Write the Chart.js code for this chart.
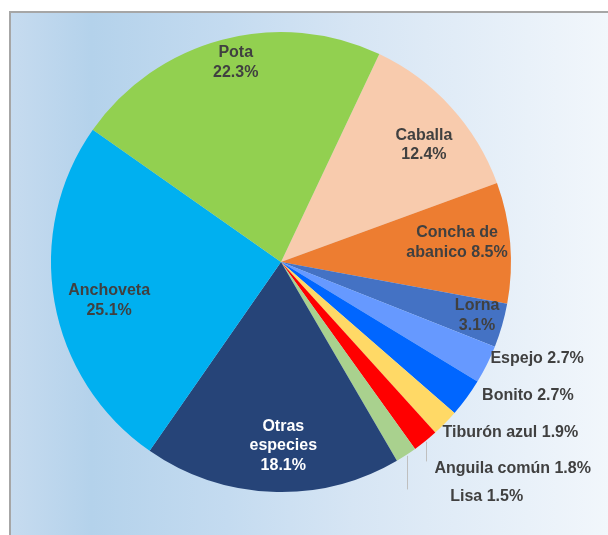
<!DOCTYPE html>
<html>
<head>
<meta charset="utf-8">
<script src="https://cdn.jsdelivr.net/npm/chart.js@4"></script>
<style>
  html, body { margin: 0; padding: 0; background: #ffffff; }
  #wrap { position: relative; width: 608px; height: 535px; overflow: hidden; }
  #frame {
    position: absolute; left: 9px; top: 11px; width: 620px; height: 560px;
    border: 2px solid #a6a6a6;
    background: linear-gradient(to right, #c6dbef 0%, #b4d2eb 13%, #c4dbf0 35%, #d6e5f4 55%, #f4f8fc 100%);
  }
  canvas { position: absolute; left: 0; top: 0; }
</style>
</head>
<body>
<div id="wrap">
  <div id="frame"></div>
  <canvas id="grafico" width="608" height="535"></canvas>
</div>
<script>
// especies (en sentido horario desde Caballa)
const especies = ['Caballa', 'Concha de abanico', 'Lorna', 'Espejo', 'Bonito', 'Tiburón azul',
                  'Anguila común', 'Lisa', 'Otras especies', 'Anchoveta', 'Pota'];
const porcentajes = [12.4, 8.5, 3.1, 2.7, 2.7, 1.9, 1.8, 1.5, 18.1, 25.1, 22.3];
const colores = ['#f8cbad', '#ed7d31', '#4472c4', '#6699ff', '#0066ff', '#ffd966',
                 '#ff0000', '#a9d18e', '#264478', '#00b0f0', '#92d050'];

// texto de cada etiqueta (lineas)
const etiquetas = [
    ['Caballa', '12.4%'],
    ['Concha de', 'abanico 8.5%'],
    ['Lorna', '3.1%'],
    ['Espejo 2.7%'],
    ['Bonito 2.7%'],
    ['Tiburón azul 1.9%'],
    ['Anguila común 1.8%'],
    ['Lisa 1.5%'],
    ['Otras', 'especies', '18.1%'],
    ['Anchoveta', '25.1%'],
    ['Pota', '22.3%']
];
// colocacion: [factor de radio, desvio de angulo en grados]
const colocacion = [
    [0.803, 3.1], [0.77, -1.4], [0.884, -0.7], [1.19, -5.8], [1.22, -7.8],
    [1.243, -7.8], [1.349, -9.4], [1.356, -8.3], [0.80, -3.0], [0.766, -2.7], [0.888, 2.0]
];
const conLinea = [false, false, false, false, false, false, true, true, false, false, false];

const pluginEtiquetas = {
    id: 'etiquetas',
    afterDatasetsDraw(chart) {
        const ctx = chart.ctx;
        const arcos = chart.getDatasetMeta(0).data;
        ctx.save();
        ctx.font = 'bold 16px "Liberation Sans", Arial, sans-serif';
        ctx.textAlign = 'center';
        ctx.textBaseline = 'middle';
        arcos.forEach((arco, i) => {
            const mitad = (arco.startAngle + arco.endAngle) / 2;
            const medio = mitad + colocacion[i][1] * Math.PI / 180;
            const r = arco.outerRadius * colocacion[i][0];
            const x = arco.x + Math.cos(medio) * r;
            const y = arco.y + Math.sin(medio) * r;
            const lineas = etiquetas[i];
            const alto = 19.5;
            const y0 = y - (lineas.length - 1) * alto / 2;
            if (conLinea[i]) {
                const lx = arco.x + Math.cos(mitad) * (arco.outerRadius + 1);
                const ly = arco.y + Math.sin(mitad) * (arco.outerRadius + 1);
                ctx.strokeStyle = '#bfbfbf';
                ctx.lineWidth = 1;
                ctx.beginPath();
                ctx.moveTo(Math.round(lx) + 0.5, ly);
                ctx.lineTo(Math.round(lx) + 0.5, y0 - 7);
                ctx.stroke();
            }
            ctx.fillStyle = (i === 8) ? '#ffffff' : '#404040';
            lineas.forEach((t, k) => ctx.fillText(t, x, y0 + k * alto));
        });
        ctx.restore();
    }
};

new Chart(document.getElementById('grafico').getContext('2d'), {
    type: 'pie',
    data: {
        labels: especies,
        datasets: [{
            data: porcentajes,
            backgroundColor: colores,
            borderWidth: 0
        }]
    },
    options: {
        responsive: false,
        animation: false,
        rotation: 25.3,
        layout: { padding: { left: 51, right: 97, top: 32, bottom: 43 } },
        plugins: {
            legend: { display: false },
            tooltip: { enabled: false }
        }
    },
    plugins: [pluginEtiquetas]
});
</script>
</body>
</html>
